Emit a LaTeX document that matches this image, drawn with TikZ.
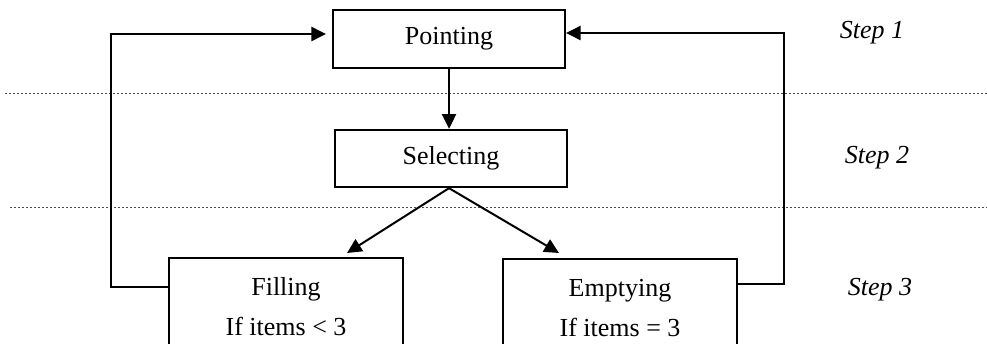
\documentclass[tikz,border=0pt]{standalone}
\usepackage{fontspec}
\setmainfont{Liberation Serif}
\usetikzlibrary{arrows.meta,positioning}
\tikzset{
    stagebox/.style={draw,rectangle,inner sep=0pt,align=center,font=\fontsize{19.5}{30}\selectfont},
    steplabel/.style={font=\fontsize{19.5}{23}\selectfont\itshape},
    divider/.style={line width=0.7pt,gray!60!black,dash pattern=on 1.8pt off 1.2pt},
    loopline/.style={line width=1.9pt,->}
}
\begin{document}
\begin{tikzpicture}[x=0.75pt,y=-0.75pt,line width=1.5pt,>={Triangle[length=11pt,width=10.5pt]}]
        \useasboundingbox (0,0) rectangle (987,343);
        % draw the step dividers
        \draw[divider] (5,93) -- (987,93);
        \draw[divider] (10,207) -- (987,207);
        % draw the boxes
        \node[stagebox,minimum width=174pt,minimum height=43.5pt] (pointing) at (449,39) {Pointing};
        \node[stagebox,minimum width=174pt,minimum height=43pt] (selecting) at (451,158.5) {Selecting};
        \node[stagebox,minimum width=175.5pt,minimum height=73.5pt] (filling) at (286,307) {Filling\\If items < 3};
        \node[stagebox,minimum width=175.5pt,minimum height=73.5pt] (emptying) at (620,308) {Emptying\\If items = 3};
        \coordinate (fillin) at (347,253);
        \coordinate (emptyin) at (559,253);
        % draw the arrows between steps
        \draw[->] (pointing.south) -- (pointing.south |- selecting.north);
        \draw[->] ([xshift=-1.5pt]selecting.south) -- (fillin);
        \draw[->] ([xshift=-1.5pt]selecting.south) -- (emptyin);
        % draw the loops back to pointing
        \draw[loopline,shorten >=4.5pt] ([yshift=15pt]filling.west) -- ++(-57,0) |- ([yshift=3.75pt]pointing.west);
        \draw[loopline] ([yshift=18pt]emptying.east) -- ++(46,0) |- ([yshift=4.5pt]pointing.east);
        % step labels
        \node[steplabel] (step1) at (872,33) {Step 1};
        \node[steplabel] (step2) at (877,158) {Step 2};
        \node[steplabel] (step3) at (880,290) {Step 3};
    \end{tikzpicture}
\end{document}
